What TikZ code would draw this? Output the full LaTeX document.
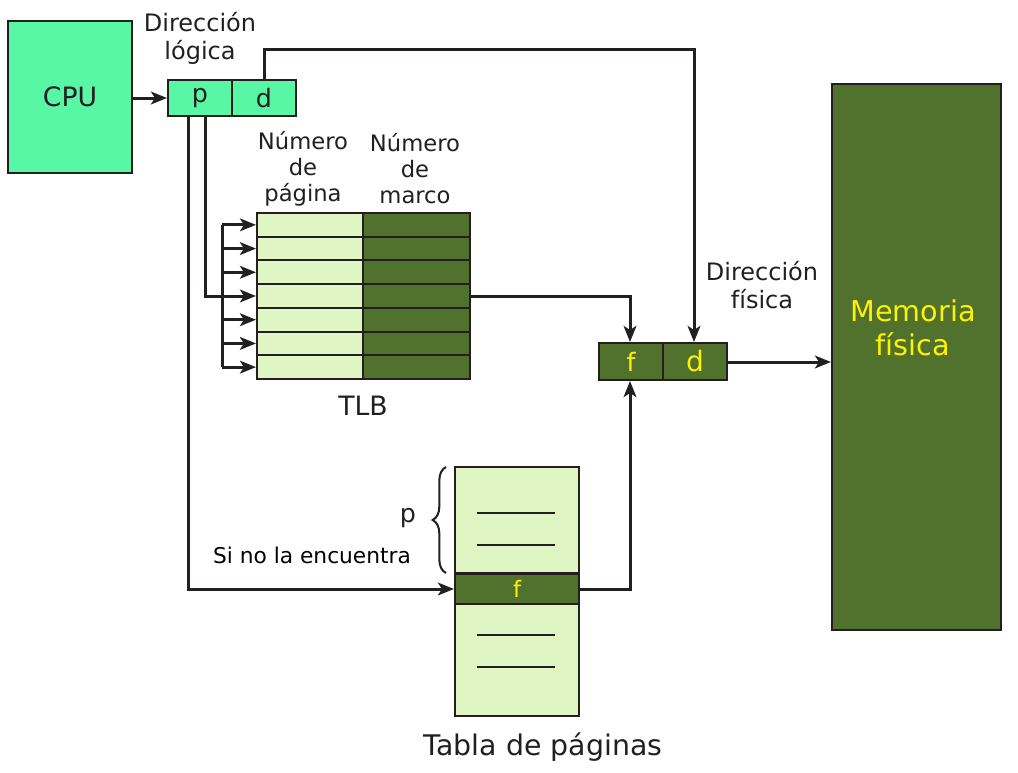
\documentclass[tikz,border=0pt]{standalone}
\usepackage{fontspec}
\setmainfont{DejaVu Sans}
\usetikzlibrary{arrows.meta,decorations.pathreplacing}
\definecolor{ink}{RGB}{35,31,32}
\definecolor{cpugreen}{RGB}{87,247,166}
\definecolor{light}{RGB}{223,245,196}
\definecolor{dark}{RGB}{80,114,45}
\definecolor{yel}{RGB}{255,242,0}
\tikzset{
  box/.style={draw=ink, line width=1.5pt, inner sep=0pt, text=ink},
  conn/.style={draw=ink, line width=2.25pt},
  arr/.style={conn, -{Stealth[length=12pt,width=9.5pt,inset=3pt]}},
  lbl/.style={text=ink, align=center, inner sep=0pt},
}
\begin{document}
\begin{tikzpicture}[x=0.75pt,y=-0.75pt]
\useasboundingbox (0,0) rectangle (1018,772);
% CPU
\node[box, fill=cpugreen, minimum width=93pt, minimum height=114pt, font=\fontsize{20}{24}\selectfont] (cpu) at (70,97) {CPU};
% logical address
\node[box, fill=cpugreen, minimum width=48pt, minimum height=27pt, font=\fontsize{19}{22}\selectfont] (lp) at (200,98) {p};
\node[box, fill=cpugreen, minimum width=48pt, minimum height=27pt, font=\fontsize{19}{22}\selectfont] (ld) at (264,98) {\raisebox{-1pt}{d}};
\node[lbl, font=\fontsize{18}{21}\selectfont] (dl) at (200,38) {Dirección\\lógica};
% TLB
\foreach \i in {1,...,7}{
  \node[box, fill=light, minimum width=79.5pt, minimum height=17.79pt] (tl\i) at (310,{213+(\i-0.5)*23.714}) {};
  \node[box, fill=dark, minimum width=80.25pt, minimum height=17.79pt] (tr\i) at (416.5,{213+(\i-0.5)*23.714}) {};
}
\node[lbl, font=\fontsize{17}{19.5}\selectfont] (np) at (303,169) {Número\\de\\página};
\node[lbl, font=\fontsize{17}{19.5}\selectfont] (nm) at (415,169) {Número\\de\\marco};
\node[lbl, font=\fontsize{20}{24}\selectfont] (tlb) at (363,406) {TLB};
% physical address
\node[box, fill=dark, text=yel, minimum width=48pt, minimum height=27.75pt, font=\fontsize{19}{22}\selectfont] (pf) at (631,361.5) {f};
\node[box, fill=dark, text=yel, minimum width=48pt, minimum height=27.75pt, font=\fontsize{21}{24}\selectfont] (pd) at (695,361.5) {d};
\node[lbl, font=\fontsize{18}{21}\selectfont] (df) at (762,285) {Dirección\\física};
% memory
\node[box, fill=dark, minimum width=126.75pt, minimum height=409.5pt] (mem) at (916.5,357) {};
\node[lbl, text=yel, font=\fontsize{21.5}{25.5}\selectfont] (memt) at (913,328) {Memoria\\física};
% page table
\node[box, fill=light, minimum width=93pt, minimum height=79.5pt] (ptt) at (517,520) {};
\node[box, fill=dark, text=yel, minimum width=93pt, minimum height=23.25pt, font=\fontsize{17}{20}\selectfont] (ptf) at (517,589) {f};
\node[box, fill=light, minimum width=93pt, minimum height=84pt] (ptb) at (517,660) {};
\foreach \yy in {513,545,635,667}{
  \draw[ink, line width=1.5pt] (477,\yy) -- (555,\yy);
}
\draw[ink, line width=1.5pt, decorate, decoration={brace, amplitude=10pt}] (446,573) -- (446,467);
\node[lbl, font=\fontsize{19}{22}\selectfont] (pl) at (408,518) {p};
\node[lbl, text=black, font=\fontsize{16.3}{19}\selectfont] (sn) at (312,555) {Si no la encuentra};
\node[lbl, font=\fontsize{21.3}{25}\selectfont] (tp) at (543,747) {Tabla de páginas};
% connectors
\draw[arr] (cpu.east |- lp.west) -- (lp.west);
\draw[arr] (ld.north) -- ++(0,-30) -| ([xshift=-0.75pt]pd.north);
\coordinate (bus) at (222,0);
\draw[conn] (bus |- tl1.west) -- (bus |- tl7.west);
\foreach \i in {1,...,7}{
  \draw[arr] (bus |- tl\i.west) -- (tl\i.west);
}
\draw[conn] ([xshift=3.75pt]lp.south) |- (bus |- tl4.west);
\draw[arr] ([xshift=-9pt]lp.south) |- (ptf.west);
\draw[arr] (tr4.east) -| ([xshift=-0.75pt]pf.north);
\draw[arr] (ptf.east) -| ([xshift=-0.75pt]pf.south);
\draw[arr] (pd.east |- 0,362) -- (mem.west |- 0,362);
\end{tikzpicture}
\end{document}
